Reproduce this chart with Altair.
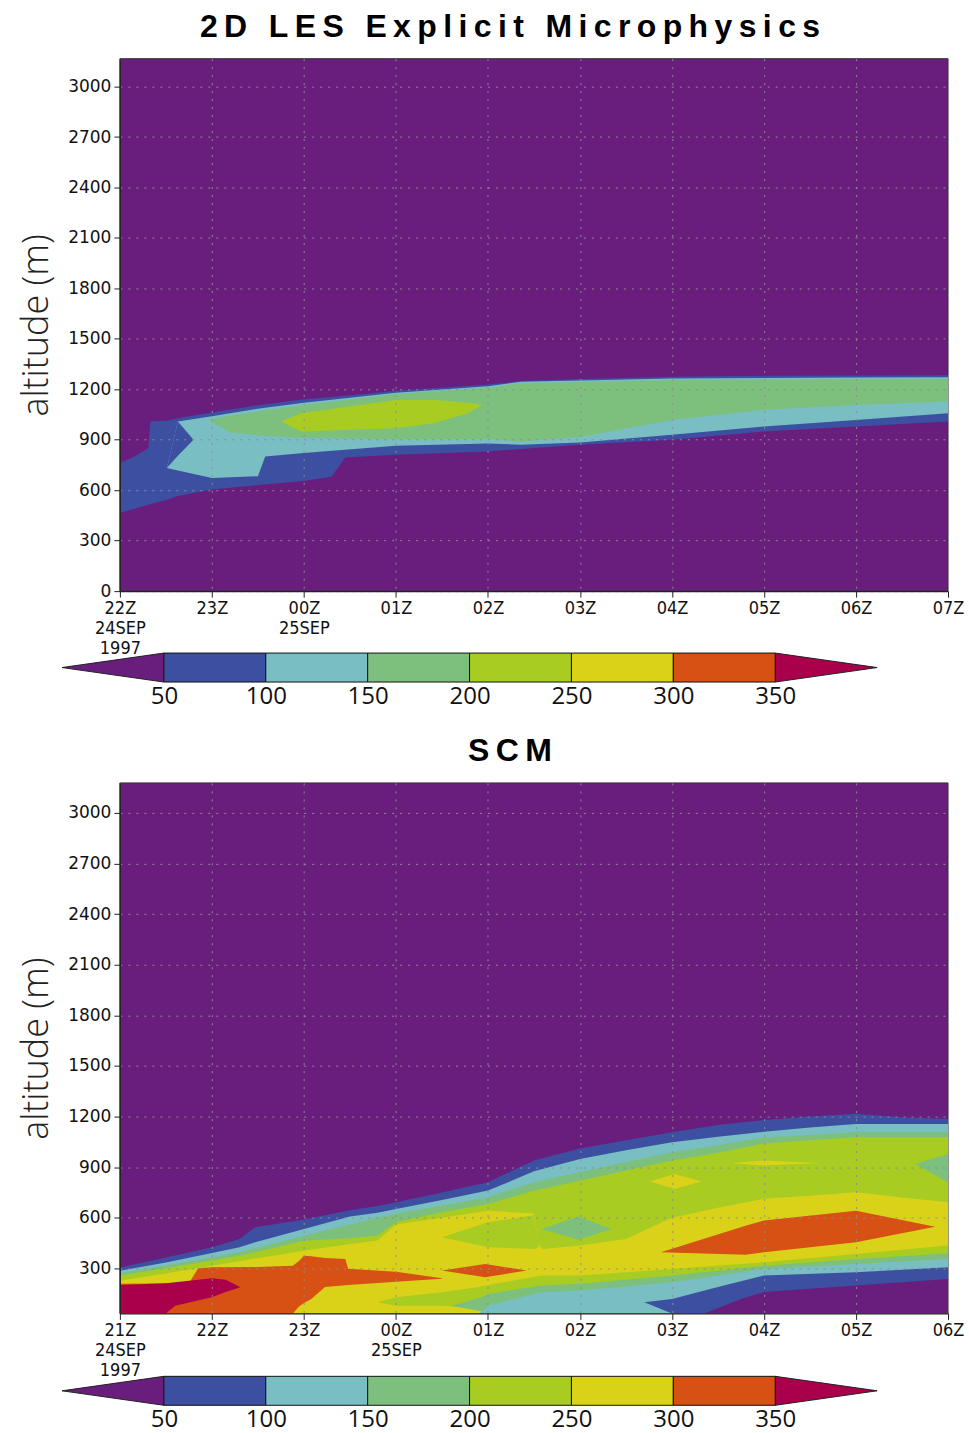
import json
import altair as alt
import pandas as pd

# ---------------------------------------------------------------- classes
LEVELS = [0, 50, 100, 150, 200, 250, 300, 350]
COLORS = ["#691e7d", "#3c4fa0", "#78bec3", "#7dc07d", "#a8cc22", "#dad219", "#d75014", "#aa004b"]
COLOR_OF = dict(zip(LEVELS, COLORS))
CB_EDGES = [50, 100, 150, 200, 250, 300, 350]

# ---------------------------------------------------------------- LES panel (x = hours after 22Z)
LES_X_DOMAIN = [0, 9]
LES_Y_DOMAIN = [0, 3166]
LES_Y_TICKS = [0, 300, 600, 900, 1200, 1500, 1800, 2100, 2400, 2700, 3000]
LES_X_LABELS = ["22Z", "23Z", "00Z", "01Z", "02Z", "03Z", "04Z", "05Z", "06Z", "07Z"]
LES_X_EXTRA = {0: ["24SEP", "1997"], 2: ["25SEP"]}

LES_BLUE_X = [0, 0.16, 0.31, 0.33, 0.52, 0.63, 1.0, 1.43, 2.0, 2.3, 2.45, 3.0, 4.0, 4.36, 5.0, 6.0, 7.0, 8.0, 9.0]
LES_BLUE_LO = [466, 490, 513, 517, 545, 565, 604, 627, 655, 680, 795, 811, 831, 845, 870, 900, 949, 979, 1009]
LES_BLUE_HI = [762, 801, 851, 1009, 1015, 1028, 1062, 1100, 1141, 1155, 1162, 1192, 1228, 1250, 1262, 1275, 1280, 1282, 1284]

LES_CYAN_X = [0.51, 0.63, 1.0, 1.5, 1.58, 2.0, 3.0, 4.0, 4.36, 5.0, 6.0, 7.0, 8.0, 9.0]
LES_CYAN_LO = [732, 718, 673, 683, 801, 821, 864, 878, 870, 884, 930, 979, 1018, 1058]
LES_CYAN_HI = [732, 1009, 1040, 1085, 1090, 1120, 1180, 1218, 1245, 1252, 1264, 1268, 1270, 1272]

LES_NOTCH_X = [0.51, 0.63, 0.80]
LES_NOTCH_LO = [732, 805, 900]
LES_NOTCH_HI = [732, 1009, 900]

LES_GREEN_X = [0.96, 1.2, 1.5, 2.0, 3.0, 4.0, 4.36, 5.0, 6.0, 7.0, 8.0, 9.0]
LES_GREEN_LO = [1018, 945, 925, 910, 905, 905, 890, 916, 1018, 1078, 1107, 1127]
LES_GREEN_HI = [1018, 1045, 1068, 1107, 1172, 1210, 1236, 1243, 1255, 1258, 1260, 1261]

LES_YG_X = [1.75, 1.97, 3.0, 3.42, 3.78, 3.94]
LES_YG_LO = [1009, 949, 969, 1000, 1058, 1107]
LES_YG_HI = [1009, 1058, 1137, 1137, 1120, 1107]

LES_BLOBS = [
    (50, LES_BLUE_X, LES_BLUE_LO, LES_BLUE_HI),
    (100, LES_CYAN_X, LES_CYAN_LO, LES_CYAN_HI),
    (50, LES_NOTCH_X, LES_NOTCH_LO, LES_NOTCH_HI),
    (150, LES_GREEN_X, LES_GREEN_LO, LES_GREEN_HI),
    (200, LES_YG_X, LES_YG_LO, LES_YG_HI),
]

# ---------------------------------------------------------------- SCM panel (x = hours after 21Z)
SCM_X_DOMAIN = [0, 9]
SCM_Y_DOMAIN = [33, 3178]
SCM_Y_TICKS = [300, 600, 900, 1200, 1500, 1800, 2100, 2400, 2700, 3000]
SCM_X_LABELS = ["21Z", "22Z", "23Z", "00Z", "01Z", "02Z", "03Z", "04Z", "05Z", "06Z"]
SCM_X_EXTRA = {0: ["24SEP", "1997"], 3: ["25SEP"]}

SCM_BAND_X = [0, 0.5, 1, 1.3, 1.47, 2, 2.5, 2.8, 3, 3.5, 4, 4.5, 5, 5.5, 6, 6.5, 7, 7.5, 8, 8.5, 9]
SCM_GROUND = [33] * len(SCM_BAND_X)
SCM_T50 = [305, 365, 425, 474, 544, 590, 645, 670, 692, 750, 811, 940, 1010, 1060, 1107, 1150, 1180, 1200, 1216, 1196, 1186]
SCM_T100 = [286, 335, 391, 425, 455, 534, 608, 630, 652, 705, 761, 875, 949, 1000, 1048, 1080, 1110, 1135, 1156, 1156, 1156]
SCM_T150 = [271, 318, 366, 395, 420, 494, 560, 600, 623, 672, 722, 810, 870, 930, 988, 1030, 1077, 1090, 1107, 1107, 1107]
SCM_T200 = [257, 300, 346, 375, 395, 464, 478, 495, 575, 632, 682, 760, 820, 880, 939, 985, 1040, 1060, 1077, 1077, 1077]

SCM_YEL_X = [0, 0.5, 1, 1.5, 2, 2.5, 2.8, 3, 3.5, 4, 4.5, 4.55, 4.6, 5, 5.5, 6, 6.5, 7, 7.5, 8, 8.5, 9]
SCM_YEL_LO = [33] * len(SCM_YEL_X)
SCM_YEL_HI = [227, 270, 316, 360, 405, 445, 465, 560, 600, 642, 625, 440, 415, 435, 474, 600, 660, 712, 730, 751, 720, 692]

SCM_YGLOBE_X = [3.5, 4.0, 4.5, 4.55]
SCM_YGLOBE_LO = [484, 425, 415, 425]
SCM_YGLOBE_HI = [484, 573, 615, 440]

SCM_GDIAM_X = [4.58, 4.98, 5.34]
SCM_GDIAM_LO = [534, 470, 534]
SCM_GDIAM_HI = [534, 607, 534]

SCM_YDIAM_X = [5.76, 6.03, 6.32]
SCM_YDIAM_LO = [815, 771, 815]
SCM_YDIAM_HI = [815, 860, 815]

SCM_LENS_X = [6.65, 7.0, 7.59]
SCM_LENS_LO = [925, 910, 925]
SCM_LENS_HI = [925, 940, 925]

SCM_GEDGE_X = [8.64, 9.0]
SCM_GEDGE_LO = [919, 811]
SCM_GEDGE_HI = [919, 978]

SCM_YGLOW_X = [2.8, 3.0, 3.5, 3.9, 3.95, 4.58, 5, 6, 7, 8, 9]
SCM_YGLOW_LO = [99, 79, 79, 60, 33, 33, 33, 33, 33, 33, 33]
SCM_YGLOW_HI = [99, 129, 158, 190, 195, 257, 257, 296, 336, 385, 435]

SCM_GLOW_X = [3.6, 3.93, 4.0, 4.58, 5, 6, 7, 8, 9]
SCM_GLOW_LO = [79, 45, 33, 33, 33, 33, 33, 33, 33]
SCM_GLOW_HI = [79, 128, 148, 198, 208, 257, 316, 355, 390]

SCM_CLOW_X = [3.9, 4.0, 4.58, 5, 6, 7, 8, 9]
SCM_CLOW_LO = [33, 33, 33, 33, 33, 33, 33, 33]
SCM_CLOW_HI = [33, 79, 158, 168, 218, 296, 326, 356]

SCM_BBUMP_X = [5.7, 6.0, 6.5, 7, 8, 9]
SCM_BBUMP_LO = [99, 33, 33, 33, 33, 33]
SCM_BBUMP_HI = [99, 119, 190, 257, 277, 306]

SCM_PLOW_X = [6.35, 6.75, 7.0, 8, 9]
SCM_PLOW_LO = [33, 33, 33, 33, 33]
SCM_PLOW_HI = [33, 119, 160, 198, 237]

SCM_OR1_X = [0, 0.75, 0.85, 1.0, 1.5, 1.88, 1.95, 2.0, 2.08, 2.23, 2.45, 2.48, 3.0, 3.5]
SCM_OR1_LO = [33, 33, 33, 33, 33, 33, 75, 95, 119, 190, 200, 201, 221, 238]
SCM_OR1_HI = [208, 212, 300, 306, 308, 315, 345, 375, 372, 362, 356, 297, 280, 241]

SCM_OR2_X = [3.5, 3.97, 4.42]
SCM_OR2_LO = [287, 247, 287]
SCM_OR2_HI = [287, 326, 287]

SCM_OR3_X = [5.88, 6.8, 7.0, 8.0, 8.86]
SCM_OR3_LO = [395, 380, 395, 455, 547]
SCM_OR3_HI = [395, 553, 583, 642, 547]

SCM_CRIM_X = [0, 0.5, 0.6, 1.0, 1.15, 1.31]
SCM_CRIM_LO = [33, 33, 79, 129, 160, 188]
SCM_CRIM_HI = [202, 212, 217, 241, 232, 188]

SCM_BLOBS = [
    (50, SCM_BAND_X, SCM_GROUND, SCM_T50),
    (100, SCM_BAND_X, SCM_GROUND, SCM_T100),
    (150, SCM_BAND_X, SCM_GROUND, SCM_T150),
    (200, SCM_BAND_X, SCM_GROUND, SCM_T200),
    (250, SCM_YEL_X, SCM_YEL_LO, SCM_YEL_HI),
    (200, SCM_YGLOBE_X, SCM_YGLOBE_LO, SCM_YGLOBE_HI),
    (150, SCM_GDIAM_X, SCM_GDIAM_LO, SCM_GDIAM_HI),
    (250, SCM_YDIAM_X, SCM_YDIAM_LO, SCM_YDIAM_HI),
    (250, SCM_LENS_X, SCM_LENS_LO, SCM_LENS_HI),
    (150, SCM_GEDGE_X, SCM_GEDGE_LO, SCM_GEDGE_HI),
    (200, SCM_YGLOW_X, SCM_YGLOW_LO, SCM_YGLOW_HI),
    (150, SCM_GLOW_X, SCM_GLOW_LO, SCM_GLOW_HI),
    (100, SCM_CLOW_X, SCM_CLOW_LO, SCM_CLOW_HI),
    (50, SCM_BBUMP_X, SCM_BBUMP_LO, SCM_BBUMP_HI),
    (0, SCM_PLOW_X, SCM_PLOW_LO, SCM_PLOW_HI),
    (300, SCM_OR1_X, SCM_OR1_LO, SCM_OR1_HI),
    (300, SCM_OR2_X, SCM_OR2_LO, SCM_OR2_HI),
    (300, SCM_OR3_X, SCM_OR3_LO, SCM_OR3_HI),
    (350, SCM_CRIM_X, SCM_CRIM_LO, SCM_CRIM_HI),
]

# ---------------------------------------------------------------- colour bar
CB_X_DOMAIN = [28.4, 434.8]
CB_LEFT_X, CB_LEFT_LO, CB_LEFT_HI = [0, 50], [0.5, 0], [0.5, 1]
CB_RIGHT_X, CB_RIGHT_LO, CB_RIGHT_HI = [350, 400], [0, 0.5], [1, 0.5]

# ---------------------------------------------------------------- layout
PLOT_W = 829
LES_H = 533
SCM_H = 531
CB_H = 29
GAPS = [62, 101, 63]

TICK_FONT = "DejaVu Sans"
XLAB_FONT = "Liberation Sans Narrow, DejaVu Sans Condensed, Liberation Sans"
LIGHT_FONT = "Open Sans"
GRID_COLOR = "#8e8e8e"


def spaced(text, letter="\u2009", word="\u2009 \u2009"):
    return word.join(letter.join(list(w)) for w in text.split(" "))


def label_expr(labels, extra):
    arr = [[lab] + extra.get(i, []) for i, lab in enumerate(labels)]
    return json.dumps(arr) + "[datum.value]"


def panel(blobs, x_dom, y_dom, y_ticks, x_labels, x_extra, height, title):
    xs = alt.Scale(domain=x_dom, nice=False, zero=False)
    ys = alt.Scale(domain=y_dom, nice=False, zero=False)
    x_axis = alt.Axis(
        values=list(range(10)), labelExpr=label_expr(x_labels, x_extra),
        grid=True, gridDash=[2, 6], gridColor=GRID_COLOR, gridWidth=1,
        tickSize=6, tickColor="#222", domainColor="#222", domainWidth=1.2,
        labelFont=XLAB_FONT, labelFontSize=18, labelLineHeight=20,
        labelColor="#111", labelPadding=2, labelFlush=False, labelOverlap=False,
        title=None, zindex=1,
    )
    y_axis = alt.Axis(
        values=y_ticks, format="d", grid=True, gridDash=[2, 6], gridColor=GRID_COLOR, gridWidth=1,
        tickSize=6, tickColor="#222", domainColor="#222", domainWidth=1.2,
        labelFont=TICK_FONT, labelFontSize=17, labelColor="#111", labelPadding=3,
        labelFlush=False, labelOverlap=False,
        title="altitude (m)", titleFont=LIGHT_FONT, titleFontWeight=300,
        titleFontSize=36, titleColor="#222", titlePadding=12, zindex=1,
    )
    bg = alt.Chart(pd.DataFrame({"h": [x_dom[0]], "h2": [x_dom[1]],
                                 "lo": [y_dom[0]], "hi": [y_dom[1]]})).mark_rect(
        color=COLOR_OF[0], stroke="#333", strokeWidth=1
    ).encode(
        x=alt.X("h:Q", scale=xs, axis=x_axis), x2="h2:Q",
        y=alt.Y("lo:Q", scale=ys, axis=y_axis), y2="hi:Q",
    )
    layers = [bg]
    for lvl, bx, blo, bhi in blobs:
        df = pd.DataFrame({"h": bx, "lo": blo, "hi": bhi})
        layers.append(
            alt.Chart(df).mark_area(color=COLOR_OF[lvl], clip=True, interpolate="linear").encode(
                x=alt.X("h:Q", scale=xs, axis=x_axis),
                y=alt.Y("lo:Q", scale=ys, axis=y_axis, stack=None),
                y2="hi:Q",
            )
        )
    return alt.layer(*layers).properties(
        width=PLOT_W, height=height,
        title=alt.TitleParams(text=spaced(title), font="Liberation Sans", fontSize=32,
                              fontWeight="bold", color="#000", anchor="middle",
                              dx=-24, offset=14),
    )


def colorbar():
    xs = alt.Scale(domain=CB_X_DOMAIN, nice=False, zero=False)
    ys = alt.Scale(domain=[0, 1], nice=False, zero=False)
    cb_axis = alt.Axis(
        values=CB_EDGES, ticks=False, domain=False, grid=False, title=None,
        labelFont=LIGHT_FONT, labelFontSize=24, labelColor="#111", labelPadding=2,
        labelFlush=False, labelOverlap=False)
    boxes = pd.DataFrame({"h": CB_EDGES[:-1], "h2": CB_EDGES[1:],
                          "c": COLORS[1:7], "lo": [0] * 6, "hi": [1] * 6})
    box = alt.Chart(boxes).mark_rect(stroke="#111", strokeWidth=1, clip=False).encode(
        x=alt.X("h:Q", scale=xs, axis=cb_axis),
        x2="h2:Q",
        y=alt.Y("lo:Q", scale=ys, axis=None), y2="hi:Q",
        color=alt.Color("c:N", scale=None, legend=None),
    )
    left = alt.Chart(pd.DataFrame({"h": CB_LEFT_X, "lo": CB_LEFT_LO, "hi": CB_LEFT_HI})).mark_area(
        color=COLOR_OF[0], stroke="#222", strokeWidth=1, clip=False).encode(
        x=alt.X("h:Q", scale=xs, axis=cb_axis),
        y=alt.Y("lo:Q", scale=ys, axis=None, stack=None), y2="hi:Q")
    right = alt.Chart(pd.DataFrame({"h": CB_RIGHT_X, "lo": CB_RIGHT_LO, "hi": CB_RIGHT_HI})).mark_area(
        color=COLOR_OF[350], stroke="#222", strokeWidth=1, clip=False).encode(
        x=alt.X("h:Q", scale=xs, axis=cb_axis),
        y=alt.Y("lo:Q", scale=ys, axis=None, stack=None), y2="hi:Q")
    return alt.layer(left, right, box).properties(width=PLOT_W, height=CB_H)


def spacer(h):
    return alt.Chart(pd.DataFrame({"v": [0]})).mark_point(opacity=0).encode(
        x=alt.X("v:Q", axis=None), y=alt.Y("v:Q", axis=None)
    ).properties(width=PLOT_W, height=h)


les = panel(LES_BLOBS, LES_X_DOMAIN, LES_Y_DOMAIN, LES_Y_TICKS, LES_X_LABELS, LES_X_EXTRA,
            LES_H, "2D LES Explicit Microphysics")
scm = panel(SCM_BLOBS, SCM_X_DOMAIN, SCM_Y_DOMAIN, SCM_Y_TICKS, SCM_X_LABELS, SCM_X_EXTRA,
            SCM_H, "SCM")

chart = alt.vconcat(
    les, spacer(GAPS[0]), colorbar(), spacer(GAPS[1]), scm, spacer(GAPS[2]), colorbar(),
    spacing=0, bounds="flush",
).properties(
    padding={"left": 18, "top": 10, "right": 5, "bottom": 5},
    background="white",
).configure_view(strokeWidth=0)

chart.save("out.html", embed_options={"renderer": "svg", "actions": False})
